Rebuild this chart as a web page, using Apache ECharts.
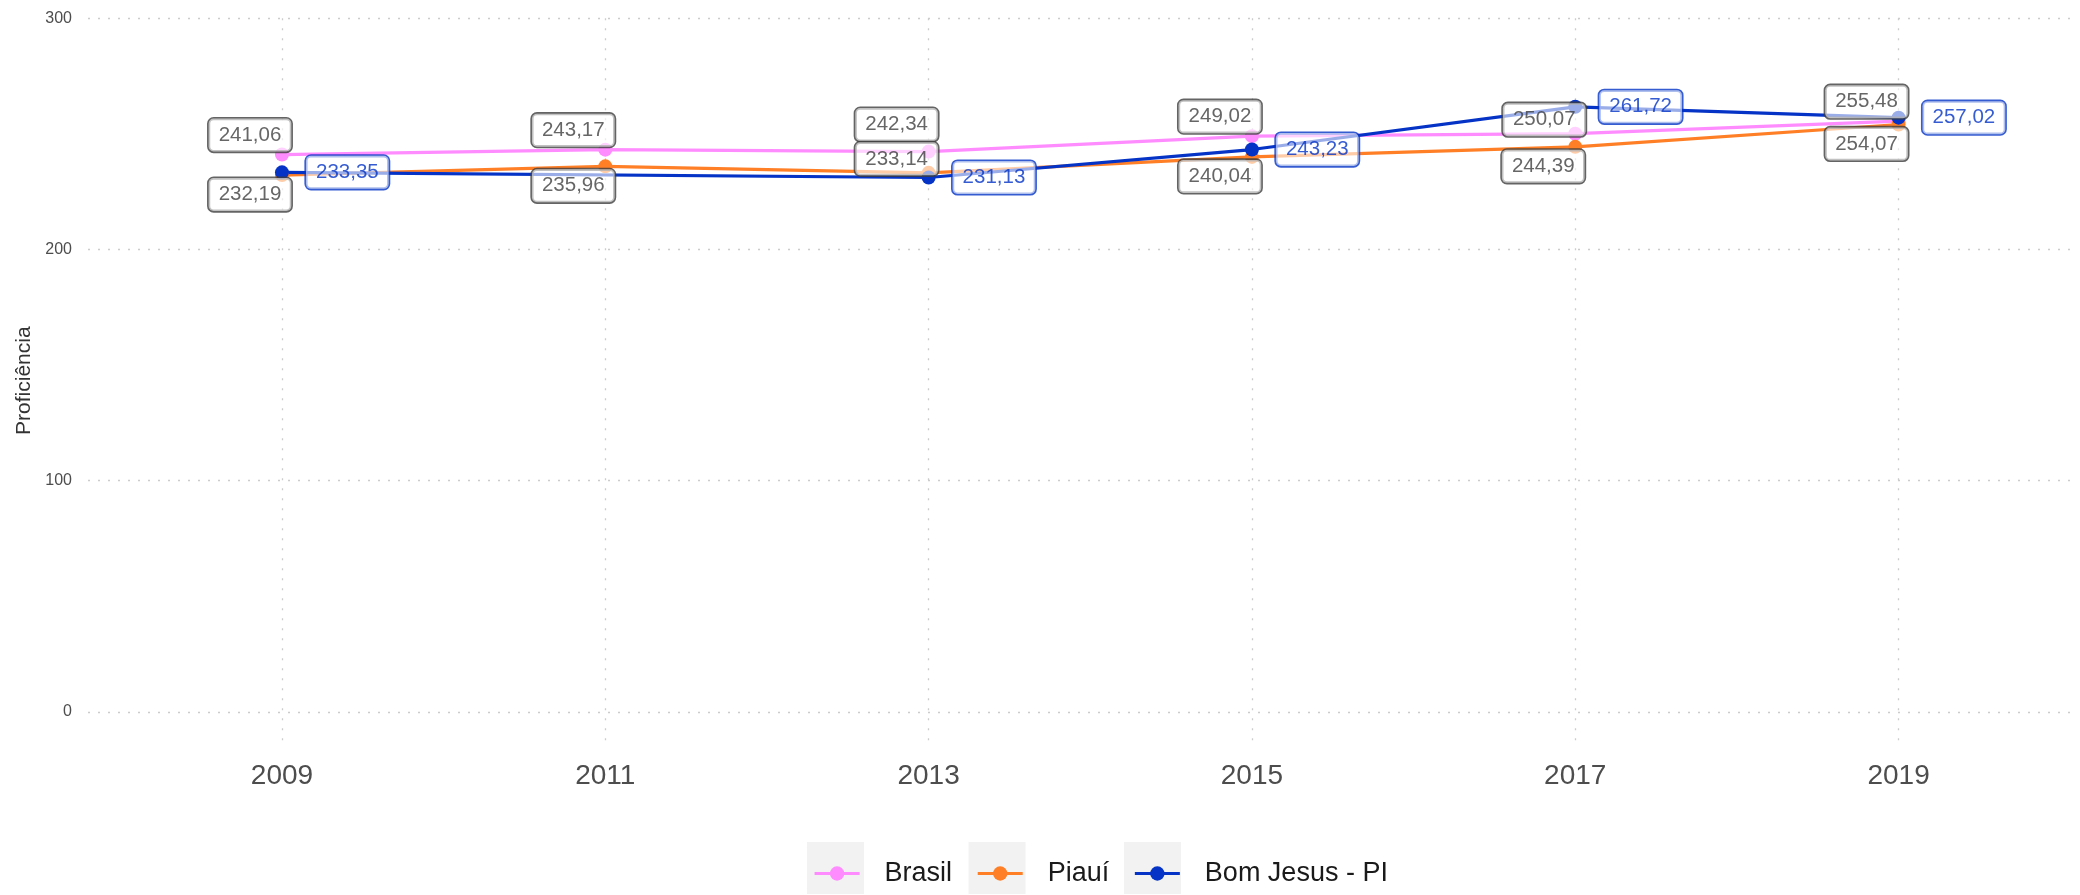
<!DOCTYPE html>
<html>
<head>
<meta charset="utf-8">
<script src="https://cdn.jsdelivr.net/npm/echarts@6/dist/echarts.min.js"></script>
<style>
  html, body { margin: 0; padding: 0; background: #fff; }
  #panel { width: 2080px; height: 895px; }
</style>
</head>
<body>
<div id="panel"></div>
<script>
// dados
const YEARS = [2009, 2011, 2013, 2015, 2017, 2019];
const BRASIL = [241.06, 243.17, 242.34, 249.02, 250.07, 255.48];
const PIAUI = [232.19, 235.96, 233.14, 240.04, 244.39, 254.07];
const BOM_JESUS = [233.35, null, 231.13, 243.23, 261.72, 257.02];
const Y_TICKS = [0, 100, 200, 300];
const NAMES = ['Brasil', 'Piauí', 'Bom Jesus - PI'];
const COLORS = ['#ff8cff', '#ff7f27', '#0433c6'];

const FONT = 'Liberation Sans';

// deslocamento das etiquetas (estilo ggrepel)
const NUDGE_DEFAULT = [[-32, -19.5], [-32, 19.5], null];
const NUDGE_EXTRA = {
  0: { 2: [-32, -27], 4: [-31, -14] },
  1: { 2: [-32, -14] },
};

const fmt = (v) => v.toFixed(2).replace('.', ',');
const pairs = (vals) => YEARS.map((y, i) => [y, vals[i]]);
const allValues = [BRASIL, PIAUI, BOM_JESUS];

const lineSeries = allValues.map((vals, s) => ({
  name: NAMES[s],
  type: 'line',
  data: pairs(vals),
  connectNulls: true,
  symbol: 'circle',
  symbolSize: 14,
  lineStyle: { width: 3.2, color: COLORS[s] },
  itemStyle: { color: COLORS[s] },
  z: 2,
}));

const labelSeries = allValues.map((vals, s) => {
  const gray = s < 2;
  const data = [];
  YEARS.forEach((y, i) => {
    if (vals[i] == null) return;
    const item = { value: [y, vals[i]] };
    if (gray) {
      const off = (NUDGE_EXTRA[s] && NUDGE_EXTRA[s][i]) || NUDGE_DEFAULT[s];
      item.label = { offset: off };
    }
    data.push(item);
  });
  return {
    name: 'rotulo-' + s,
    type: 'scatter',
    data: data,
    symbolSize: 0,
    silent: true,
    z: 10,
    label: {
      show: true,
      position: gray ? 'inside' : 'right',
      distance: 24,
      formatter: (p) => fmt(p.value[1]),
      fontFamily: FONT,
      fontSize: 20.5,
      lineHeight: 21,
      color: gray ? '#404040' : COLORS[2],
      backgroundColor: 'rgba(255,255,255,0.75)',
      borderColor: gray ? '#3d3d3d' : COLORS[2],
      borderWidth: 1.6,
      borderRadius: 5,
      padding: [6, 10, 6, 10],
    },
  };
});

const myChart = echarts.init(document.getElementById('panel'));
const option = {
  backgroundColor: '#ffffff',
  animation: false,
  grid: { left: 88, right: 2, top: 18.3, bottom: 152 },
  xAxis: {
    type: 'value',
    min: 2007.8,
    max: 2020.11,
    axisLine: { show: false },
    axisTick: { show: false, customValues: YEARS },
    axisLabel: {
      customValues: YEARS,
      formatter: (v) => String(v),
      fontFamily: FONT,
      fontSize: 28,
      color: '#4d4d4d',
      margin: 19,
    },
    splitLine: {
      show: true,
      lineStyle: { color: '#cccccc', width: 1.3, type: [2, 8] },
    },
  },
  yAxis: {
    type: 'value',
    min: -13.5,
    max: 300,
    name: 'Proficiência',
    nameLocation: 'middle',
    nameGap: 52,
    nameTextStyle: { fontFamily: FONT, fontSize: 21, color: '#333333' },
    axisLine: { show: false },
    axisTick: { show: false, customValues: Y_TICKS },
    axisLabel: {
      customValues: Y_TICKS,
      fontFamily: FONT,
      fontSize: 16,
      color: '#4d4d4d',
      margin: 16,
    },
    splitLine: {
      show: true,
      lineStyle: { color: '#cccccc', width: 1.3, type: [2, 8] },
    },
  },
  legend: [
    {
      // fundo cinza das chaves
      data: NAMES,
      selectedMode: false,
      orient: 'horizontal',
      left: 807,
      top: 842,
      padding: 0,
      icon: 'rect',
      itemWidth: 57,
      itemHeight: 52,
      itemGap: 18,
      itemStyle: { color: '#f2f2f2', borderWidth: 0 },
      textStyle: { fontFamily: FONT, fontSize: 27, color: 'rgba(0,0,0,0)', padding: [0, 0, 0, 14] },
    },
    {
      data: NAMES,
      selectedMode: false,
      orient: 'horizontal',
      left: 813,
      top: 860,
      padding: 0,
      itemWidth: 45,
      itemHeight: 18,
      itemGap: 24,
      lineStyle: { width: 3.2 },
      textStyle: { fontFamily: FONT, fontSize: 27, color: '#1a1a1a', padding: [0, 0, 0, 20] },
    },
  ],
  series: lineSeries.concat(labelSeries),
};
myChart.setOption(option);
</script>
</body>
</html>
